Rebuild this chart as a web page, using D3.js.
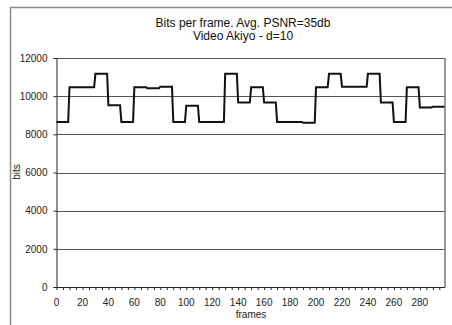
<!DOCTYPE html>
<html>
<head>
<meta charset="utf-8">
<script src="https://cdn.jsdelivr.net/npm/d3@7"></script>
<style>
  body { margin: 0; background: #fff; }
  svg { display: block; font-family: "Liberation Sans", Arial, sans-serif; }
</style>
</head>
<body>
<div id="chart"></div>
<script>
// each segment: first frame and bits per frame level
const segStart = [0, 10, 20, 30, 40, 50, 60, 70, 80, 90, 100, 110, 120, 130, 140, 150, 160, 170, 180, 190, 200, 210, 220, 230, 240, 250, 260, 270, 280, 290];
const segBits = [8650, 10470, 10470, 11170, 9520, 8650, 10470, 10420, 10500, 8650, 9500, 8650, 8650, 11170, 9670, 10470, 9670, 8650, 8650, 8610, 10470, 11170, 10500, 10500, 11170, 9670, 8650, 10470, 9410, 9450];
const lastFrame = 299;
const yTicks = [0, 2000, 4000, 6000, 8000, 10000, 12000];
const xLabels = [0, 20, 40, 60, 80, 100, 120, 140, 160, 180, 200, 220, 240, 260, 280];
const titleLines = ["Bits per frame. Avg. PSNR=35db", "Video Akiyo - d=10"];

const W = 452, H = 325;
const plot = {left: 56.5, right: 444.5, top: 58, bottom: 287};

const svg = d3.select('#chart').append('svg').attr('width', W).attr('height', H);

// outer chart border
svg.append('rect').attr('x', 10.5).attr('y', 7.5).attr('width', 460).attr('height', 340)
  .attr('fill', '#fff').attr('stroke', '#8c8c8c').attr('stroke-width', 1.5);

const x = d3.scaleLinear().domain([0, lastFrame]).range([plot.left, plot.right]);
const y = d3.scaleLinear().domain([0, 12000]).range([plot.bottom, plot.top]);

// gridlines
svg.append('g').selectAll('line').data(yTicks.filter(d => d > 0)).join('line')
  .attr('x1', plot.left).attr('x2', plot.right)
  .attr('y1', d => Math.round(y(d)) + 0.5).attr('y2', d => Math.round(y(d)) + 0.5)
  .attr('stroke', '#555').attr('stroke-width', 1);

// right border of plot area
svg.append('line').attr('x1', plot.right + 0.5).attr('x2', plot.right + 0.5)
  .attr('y1', plot.top).attr('y2', plot.bottom)
  .attr('stroke', '#333').attr('stroke-width', 1);

// y axis
const yAxis = svg.append('g').attr('transform', `translate(${plot.left},0)`)
  .call(d3.axisLeft(y).tickValues(yTicks).tickSize(3).tickPadding(6).tickFormat(d3.format('d')));
yAxis.select('.domain').attr('stroke', '#222');
yAxis.selectAll('.tick line').attr('stroke', '#222');
yAxis.selectAll('text').attr('font-size', 10).attr('fill', '#222')
  .attr('font-family', '"Liberation Sans", Arial, sans-serif');

// x axis: minor ticks every 5 frames, labels every 20
const minorTicks = d3.range(0, lastFrame + 1, 5);
const xAxis = svg.append('g').attr('transform', `translate(0,${plot.bottom})`)
  .call(d3.axisBottom(x).tickValues(minorTicks).tickSize(3).tickSizeOuter(0).tickFormat(''));
xAxis.select('.domain').attr('stroke', '#222');
xAxis.selectAll('.tick line').attr('stroke', '#222');

svg.append('g').selectAll('text').data(xLabels).join('text')
  .attr('x', d => x(d)).attr('y', 306)
  .attr('text-anchor', 'middle').attr('font-size', 10).attr('fill', '#222')
  .text(d => d);

// series: hold each level through its segment, then move to the next
const pts = [];
segStart.forEach((s, i) => {
  const end = i < segStart.length - 1 ? segStart[i + 1] - 1 : lastFrame;
  pts.push([s, segBits[i]]);
  pts.push([end, segBits[i]]);
});
svg.append('path').datum(pts)
  .attr('fill', 'none').attr('stroke', '#111').attr('stroke-width', 2)
  .attr('stroke-linejoin', 'miter')
  .attr('d', d3.line().x(d => x(d[0])).y(d => y(d[1])));

// titles
svg.append('g').selectAll('text').data(titleLines).join('text')
  .attr('x', 243).attr('y', (d, i) => 27 + i * 13)
  .attr('text-anchor', 'middle').attr('font-size', 12).attr('fill', '#111')
  .text(d => d);

svg.append('text').attr('x', 251).attr('y', 318).attr('text-anchor', 'middle')
  .attr('font-size', 10).attr('fill', '#222').text('frames');

svg.append('text').attr('transform', `translate(20,172) rotate(-90)`)
  .attr('text-anchor', 'middle').attr('font-size', 10).attr('fill', '#222').text('bits');
</script>
</body>
</html>
